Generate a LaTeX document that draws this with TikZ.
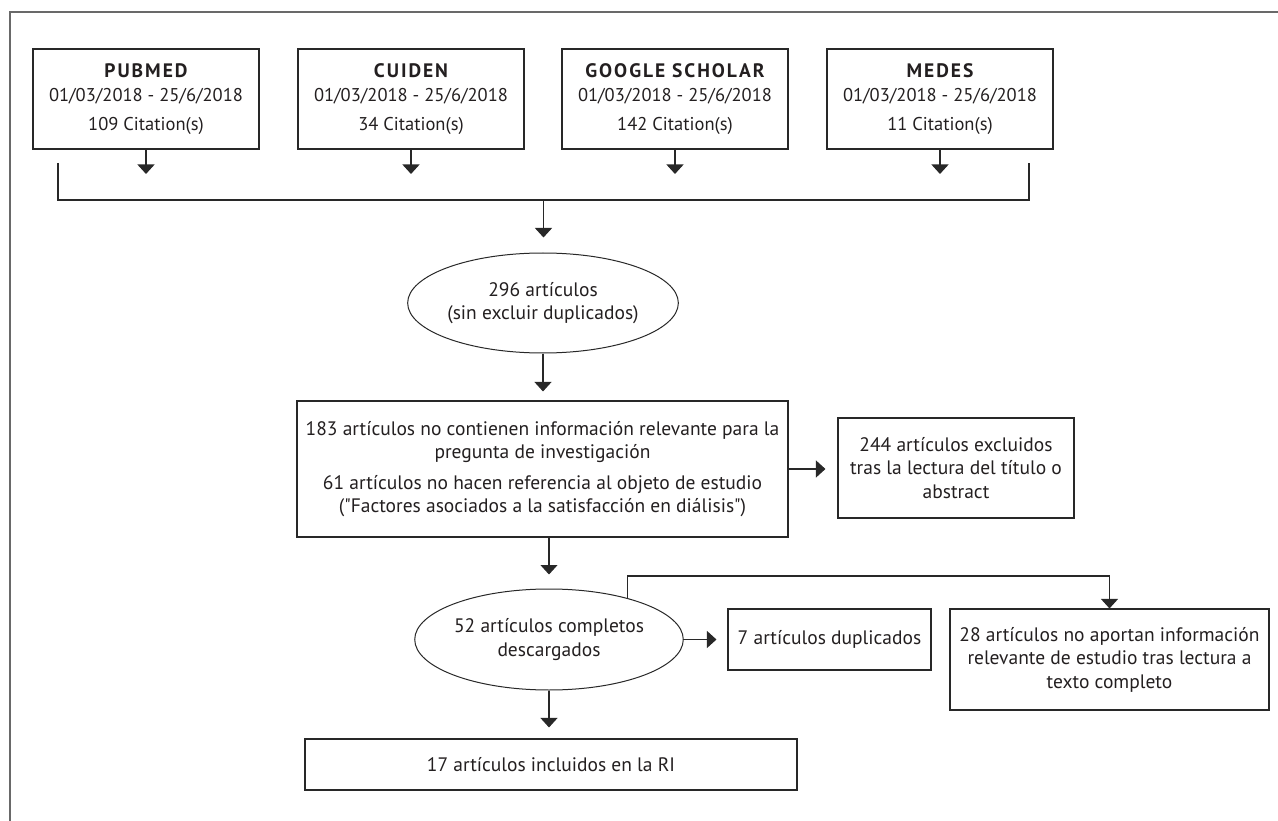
\documentclass[tikz,border=0pt]{standalone}
\usepackage{fontspec}
\setmainfont{PT Sans}
\usetikzlibrary{arrows.meta,shapes.geometric}
\definecolor{ln}{RGB}{40,40,40}
\definecolor{tx}{RGB}{35,31,32}
\definecolor{fr}{RGB}{105,105,105}
\newcommand\dbhead[1]{{\fontsize{19.5}{24}\selectfont\bfseries\addfontfeature{LetterSpace=10}#1}}
\begin{document}
\begin{tikzpicture}[x=1pt,y=-1pt,
 every node/.style={text=tx, font=\fontsize{19.5}{23.5}\selectfont},
 dbbox/.style={draw=ln, line width=1.1pt, rectangle, inner sep=0pt, minimum width=226pt, minimum height=100pt, align=center, font=\fontsize{18.5}{24}\selectfont},
 box/.style={draw=ln, line width=1.1pt, rectangle, inner sep=0pt, align=center},
 oval/.style={draw=ln, line width=1pt, ellipse, inner sep=0pt, minimum width=258pt, minimum height=100pt, align=center},
 arr/.style={draw=ln, line width=1.1pt, -{Triangle[width=17pt,length=9.5pt]}},
 conn/.style={draw=ln, line width=1.1pt},
]
\useasboundingbox (0,0) rectangle (1278,821);
% frame
\draw[fr, line width=1.6pt] (10,821) -- (10,12) -- (1278,12);

% databases
\node[dbbox] (pub) at (146,99) {\dbhead{PUBMED}\\01/03/2018 - 25/6/2018\\[5pt]109 Citation(s)};
\node[dbbox] (cui) at (411,99) {\dbhead{CUIDEN}\\01/03/2018 - 25/6/2018\\[5pt]34 Citation(s)};
\node[dbbox] (goo) at (675,99) {\dbhead{GOOGLE SCHOLAR}\\01/03/2018 - 25/6/2018\\[5pt]142 Citation(s)};
\node[dbbox] (med) at (940,99) {\dbhead{MEDES}\\01/03/2018 - 25/6/2018\\[5pt]11 Citation(s)};

\coordinate (pubA) at (146,174);
\coordinate (cuiA) at (411,174);
\coordinate (gooA) at (675,174);
\coordinate (medA) at (940,174);
\draw[arr] (pub.south) -- (pubA);
\draw[arr] (cui.south) -- (cuiA);
\draw[arr] (goo.south) -- (gooA);
\draw[arr] (med.south) -- (medA);

% bracket
\coordinate (bl) at (58,163);
\coordinate (br) at (1029,163);
\coordinate (bmid) at (543.5,200);
\draw[conn] (bl) |- (bmid) -| (br);

% main flow
\node[oval] (e296) at (543,303) {296 artículos\\(sin excluir duplicados)};
\draw[arr, shorten >=15pt] (bmid) -- (bmid |- e296.north);

\node[box, minimum width=491pt, minimum height=136pt] (b183) at (542.5,469)
 {183 artículos no contienen información relevante para la\\pregunta de investigación\\[7pt]61 artículos no hacen referencia al objeto de estudio\\(\textquotedbl Factores asociados a la satisfacción en diálisis\textquotedbl)};
\draw[arr, shorten >=9pt] (e296.south) -- (e296.south |- b183.north);

\node[box, minimum width=236pt, minimum height=100pt] (b244) at (956,468)
 {244 artículos excluidos\\tras la lectura del título o\\abstract};
\draw[arr, shorten >=12pt] (b183.east) -- (b244.west |- b183.east);

\node[oval, minimum height=101pt] (e52) at (549,639.5) {52 artículos completos\\descargados};
\draw[arr, shorten >=14pt] (b183.south -| e52.north) -- (e52.north);

\node[box, minimum width=203pt, minimum height=61pt] (b7) at (829.5,639.5) {7 artículos duplicados};
\draw[arr, shorten >=11pt] (e52.east) -- (b7.west);

\node[box, minimum width=319pt, minimum height=101pt] (b28) at (1109.5,659.5)
 {28 artículos no aportan información\\relevante de estudio tras lectura a\\texto completo};
\coordinate (fbc) at (1109.5,576);
\draw[arr] (e52.28.7) |- (fbc) -- (b28.north);

\node[box, minimum width=492pt, minimum height=51pt] (b17) at (551,764.5) {17 artículos incluidos en la RI};
\draw[arr, shorten >=11pt] (e52.south) -- (e52.south |- b17.north);
\end{tikzpicture}
\end{document}
